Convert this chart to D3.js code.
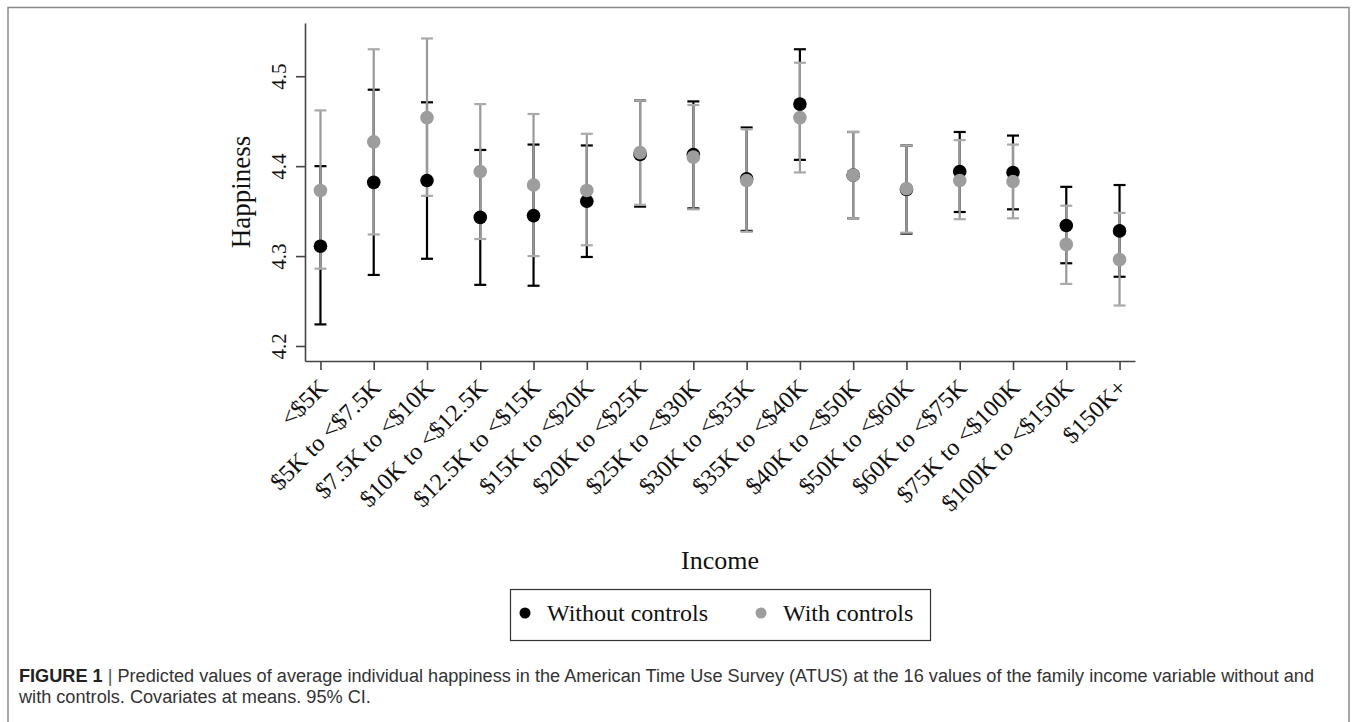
<!DOCTYPE html>
<html>
<head>
<meta charset="utf-8">
<script src="https://cdn.jsdelivr.net/npm/d3@7"></script>
<style>
  body { margin: 0; background: #fff; }
  svg { display: block; }
</style>
</head>
<body>
<svg id="chart" width="1356" height="722"></svg>
<script>
// income bins on the x axis
var categories = ["<$5K", "$5K to <$7.5K", "$7.5K to <$10K", "$10K to <$12.5K",
  "$12.5K to <$15K", "$15K to <$20K", "$20K to <$25K", "$25K to <$30K",
  "$30K to <$35K", "$35K to <$40K", "$40K to <$50K", "$50K to <$60K",
  "$60K to <$75K", "$75K to <$100K", "$100K to <$150K", "$150K+"];

// without controls (black)
var noCtrlMean = [4.311, 4.382, 4.384, 4.343, 4.345, 4.361, 4.413, 4.413, 4.386, 4.469, 4.390, 4.374, 4.394, 4.393, 4.334, 4.328];
var noCtrlLo   = [4.224, 4.279, 4.297, 4.268, 4.267, 4.299, 4.355, 4.353, 4.328, 4.407, 4.342, 4.325, 4.349, 4.352, 4.292, 4.277];
var noCtrlHi   = [4.400, 4.485, 4.471, 4.418, 4.424, 4.423, 4.473, 4.472, 4.443, 4.530, 4.438, 4.423, 4.438, 4.434, 4.377, 4.379];

// with controls (gray)
var ctrlMean = [4.373, 4.427, 4.454, 4.394, 4.379, 4.373, 4.415, 4.410, 4.384, 4.454, 4.390, 4.375, 4.384, 4.383, 4.313, 4.296];
var ctrlLo   = [4.286, 4.324, 4.367, 4.319, 4.300, 4.312, 4.357, 4.352, 4.327, 4.393, 4.342, 4.326, 4.341, 4.342, 4.269, 4.245];
var ctrlHi   = [4.462, 4.530, 4.542, 4.469, 4.458, 4.436, 4.473, 4.468, 4.441, 4.515, 4.438, 4.423, 4.429, 4.424, 4.356, 4.348];

var yTicks = [4.2, 4.3, 4.4, 4.5];
var seriesNames = ["Without controls", "With controls"];

var svg = d3.select("#chart");
var serif = "'Liberation Serif', 'Times New Roman', serif";
var sans = "'Liberation Sans', Arial, Helvetica, sans-serif";

// outer figure frame (bottom edge is cut off)
svg.append("path")
    .attr("d", "M8,722 V7.5 H1349 V722")
    .attr("fill", "none")
    .attr("stroke", "#8a8a8a")
    .attr("stroke-width", 1.5);

var plotL = 305, plotR = 1135, plotT = 23, plotB = 361;

var x = d3.scalePoint()
    .domain(categories)
    .range([plotL, plotR])
    .padding(0.29);

var y = d3.scaleLinear()
    .domain([4.1833, 4.5592])
    .range([plotB, plotT]);

// axes
var yAxis = svg.append("g")
    .attr("transform", "translate(" + plotL + ",0)")
    .call(d3.axisLeft(y).tickValues(yTicks).tickSize(9).tickSizeOuter(0).tickFormat(d3.format(".1f")));

var xAxis = svg.append("g")
    .attr("transform", "translate(0," + plotB + ")")
    .call(d3.axisBottom(x).tickSize(9).tickSizeOuter(0));

[xAxis, yAxis].forEach(function(a) {
  a.selectAll("path, line").attr("stroke", "#444").attr("stroke-width", 1.6);
  a.selectAll("text").attr("fill", "#111").style("font-family", serif);
});

// rotated y tick labels
yAxis.selectAll(".tick text")
    .style("font-size", "21px")
    .attr("x", 0).attr("y", 0).attr("dy", 0)
    .attr("text-anchor", "middle")
    .attr("transform", "translate(-19,0) rotate(-90)");

// 45 degree x tick labels
xAxis.selectAll(".tick text")
    .style("font-size", "24px")
    .attr("x", 0).attr("y", 0).attr("dy", 0)
    .attr("text-anchor", "end")
    .attr("transform", "translate(8,28) rotate(-45)");

// axis titles
svg.append("text")
    .attr("transform", "translate(250," + (plotT + plotB) / 2 + ") rotate(-90)")
    .attr("text-anchor", "middle")
    .style("font-family", serif).style("font-size", "27px")
    .attr("fill", "#111")
    .text("Happiness");

svg.append("text")
    .attr("x", (plotL + plotR) / 2).attr("y", 569)
    .attr("text-anchor", "middle")
    .style("font-family", serif).style("font-size", "26px")
    .attr("fill", "#111")
    .text("Income");

// error bars and points
var series = [
  { mean: noCtrlMean, lo: noCtrlLo, hi: noCtrlHi, bar: "#000", cap: "#000", dot: "#000" },
  { mean: ctrlMean, lo: ctrlLo, hi: ctrlHi, bar: "#999", cap: "#aaa", dot: "#9d9d9d" }
];
var capW = 6;

series.forEach(function(s) {
  var g = svg.append("g");
  var rows = categories.map(function(c, i) { return { c: c, m: s.mean[i], lo: s.lo[i], hi: s.hi[i] }; });
  g.selectAll("line.bar").data(rows).enter().append("line")
      .attr("x1", function(d) { return x(d.c); }).attr("x2", function(d) { return x(d.c); })
      .attr("y1", function(d) { return y(d.lo); }).attr("y2", function(d) { return y(d.hi); })
      .attr("stroke", s.bar).attr("stroke-width", 2.2);
  ["lo", "hi"].forEach(function(k) {
    g.selectAll("line.cap" + k).data(rows).enter().append("line")
        .attr("x1", function(d) { return x(d.c) - capW; }).attr("x2", function(d) { return x(d.c) + capW; })
        .attr("y1", function(d) { return y(d[k]); }).attr("y2", function(d) { return y(d[k]); })
        .attr("stroke", s.cap).attr("stroke-width", 2.2);
  });
});

series.forEach(function(s) {
  svg.append("g").selectAll("circle").data(s.mean).enter().append("circle")
      .attr("cx", function(d, i) { return x(categories[i]); })
      .attr("cy", function(d) { return y(d); })
      .attr("r", 6.8)
      .attr("fill", s.dot);
});

// legend
var leg = svg.append("g");
leg.append("rect")
    .attr("x", 510.5).attr("y", 589.5).attr("width", 420).attr("height", 51)
    .attr("fill", "#fff").attr("stroke", "#333").attr("stroke-width", 1.2);
var legX = [525, 761];
seriesNames.forEach(function(n, i) {
  leg.append("circle").attr("cx", legX[i]).attr("cy", 613).attr("r", 5.5).attr("fill", series[i].dot);
  leg.append("text")
      .attr("x", legX[i] + 22).attr("y", 621)
      .style("font-family", serif).style("font-size", "24px")
      .attr("fill", "#111")
      .text(n);
});

// caption, first line sized to span the figure width
var capSize = 15.5;
var cap1 = svg.append("text").attr("x", 19).attr("y", 682)
    .style("font-family", sans).style("font-size", capSize + "px").attr("fill", "#333");
cap1.append("tspan").style("font-weight", "bold").attr("fill", "#222").text("FIGURE 1");
cap1.append("tspan").attr("fill", "#555").text("  |  ");
cap1.append("tspan").text("Predicted values of average individual happiness in the American Time Use Survey (ATUS) at the 16 values of the family income variable without and");
var w = cap1.node().getComputedTextLength();
capSize = capSize * 1296 / w;
cap1.style("font-size", capSize + "px");

svg.append("text").attr("x", 19).attr("y", 703)
    .style("font-family", sans).style("font-size", capSize + "px").attr("fill", "#333")
    .text("with controls. Covariates at means. 95% CI.");
</script>
</body>
</html>
